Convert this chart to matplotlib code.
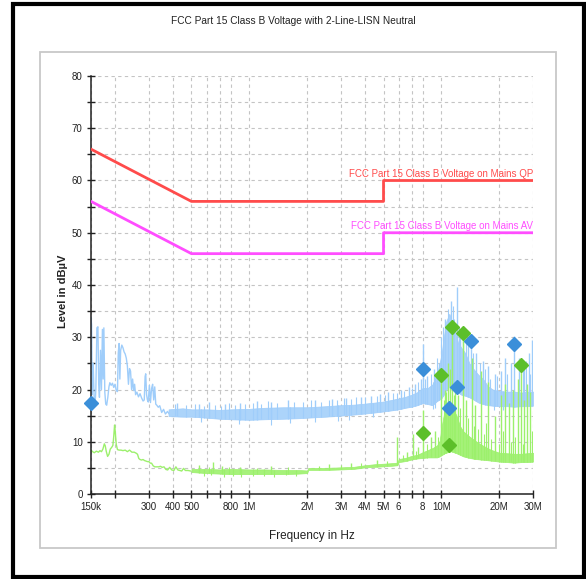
import numpy as np
import matplotlib
matplotlib.use("Agg")
import matplotlib.pyplot as plt
from matplotlib.patches import Rectangle

plt.rcParams['font.family'] = ['Liberation Sans', 'DejaVu Sans']

# limit lines (MHz, dBuV)
qp_lim_f = [0.15, 0.5, 5.0, 5.0, 30.0]
qp_lim_v = [66, 56, 56, 60, 60]
av_lim_f = [0.15, 0.5, 5.0, 5.0, 30.0]
av_lim_v = [56, 46, 46, 50, 50]

# peak trace, low frequency part (kHz)
pk_lf_f = [150, 151, 152, 154, 156, 157.5, 159, 161, 163, 164.5,
           166, 168, 170, 172, 173.5, 175, 177, 179, 181, 183.5,
           186, 188, 191, 194, 197, 200, 203, 206, 208, 210,
           212, 214, 217, 220, 223, 226, 229, 232, 235, 238,
           241, 244, 247, 250, 253, 256, 260, 265, 270, 275,
           280, 284, 287, 289, 292, 295, 298, 302, 306, 310,
           314, 318, 322, 326, 330, 336, 342, 350, 358, 366,
           375, 385]
pk_lf_v = [33.8, 32.5, 19.0, 25.0, 17.2, 17.0, 20.0, 31.8, 32.0, 21.0,
           18.5, 27.5, 20.0, 31.5, 22.0, 31.8, 19.5, 17.2, 17.0, 18.5,
           20.5, 21.3, 20.8, 21.2, 20.4, 21.0, 19.8, 19.6, 27.0, 28.8,
           22.0, 27.5, 28.5, 28.0, 27.2, 26.8, 26.0, 24.5, 21.0, 24.0,
           23.5, 20.0, 22.0, 19.8, 21.0, 19.0, 19.5, 18.6, 19.2, 18.4,
           17.8, 18.0, 22.5, 23.0, 19.0, 18.0, 17.6, 20.8, 17.5, 20.2,
           21.0, 18.0, 20.5, 17.2, 17.0, 16.6, 16.9, 15.6, 16.2, 15.3,
           15.8, 15.2]

# peak trace noise band (MHz)
pk_band_f = [0.38, 0.45, 0.5, 0.6, 0.7, 0.8, 1.0, 1.2, 1.5, 1.8,
             2.0, 2.5, 3.0, 3.5, 4.0, 4.5, 5.0, 5.5, 6.0, 6.5,
             7.0, 7.5, 8.0, 8.5, 9.0, 9.5, 10.0, 10.3, 10.6, 11.0,
             11.4, 11.8, 12.2, 12.7, 13.3, 14.0, 14.8, 15.6, 16.5, 17.5,
             18.5, 20.0, 22.0, 24.0, 26.0, 28.0, 30.0]
pk_band_lo = [14.9, 14.8, 14.8, 14.6, 14.4, 14.3, 14.2, 14.3, 14.4, 14.5,
              14.6, 14.8, 15.0, 15.2, 15.4, 15.6, 15.8, 16.0, 16.2, 16.5,
              16.7, 17.0, 17.4, 17.2, 17.0, 17.8, 18.3, 19.0, 20.0, 20.5,
              20.5, 20.0, 19.5, 19.0, 18.8, 18.5, 18.0, 17.5, 17.2, 17.0,
              16.9, 16.8, 16.8, 16.7, 16.8, 16.8, 16.9]
pk_band_hi = [16.2, 16.4, 16.2, 16.2, 16.1, 16.2, 16.3, 16.5, 16.6, 16.6,
              16.6, 16.8, 17.0, 17.1, 17.3, 17.5, 17.7, 18.0, 18.3, 18.6,
              19.0, 19.5, 20.3, 20.3, 21.0, 23.0, 26.5, 30.0, 33.0, 34.5,
              33.0, 31.0, 29.0, 28.0, 27.0, 25.0, 23.8, 22.8, 22.0, 20.6,
              20.0, 19.7, 19.6, 19.6, 19.4, 19.6, 19.6]

# peak trace spikes (MHz, dBuV)
pk_spk_f = [0.42, 0.55, 0.62, 0.75, 0.9, 1.1, 1.3, 1.6, 2.2, 2.7,
            3.2, 3.8, 4.3, 4.8, 5.3, 6.2, 6.8, 7.3, 7.8, 8.0,
            8.4, 9.2, 9.7, 10.4, 11.2, 12.0, 12.5, 13.0, 13.8, 14.3,
            15.2, 16.5, 17.5, 19.0, 20.5, 21.5, 23.0, 24.0, 25.5, 27.0,
            28.5, 29.5]
pk_spk_v = [17.5, 17.2, 17.6, 17.3, 17.5, 17.8, 17.6, 18.0, 17.9, 18.2,
            18.4, 18.6, 18.8, 19.2, 19.5, 20.0, 20.5, 21.0, 22.0, 28.8,
            22.5, 24.0, 25.0, 33.5, 37.0, 39.6, 31.0, 30.5, 29.0, 30.5,
            27.0, 25.5, 24.5, 23.0, 23.5, 26.0, 25.0, 30.2, 26.0, 24.0,
            27.0, 29.5]
pk_fine_f = [0.41, 0.47, 0.52, 0.58, 0.66, 0.71, 0.78, 0.84, 0.95, 1.05,
             1.15, 1.25, 1.4, 1.7, 1.9, 2.1, 2.35, 2.6, 2.85, 3.1,
             3.4, 3.6, 4.0, 4.6, 5.1, 5.6, 5.9, 6.4, 7.0, 7.6,
             8.2, 8.8, 9.5, 10.0, 10.2, 10.8, 11.5, 11.7, 12.3, 13.5,
             14.6, 15.8, 16.9, 18.0, 19.5, 22.0, 26.5, 27.5, 29.0]
pk_fine_v = [17.2, 17.0, 17.3, 16.9, 17.1, 16.8, 17.4, 17.0, 17.2, 17.5,
             17.3, 17.8, 17.5, 17.7, 17.6, 17.9, 17.7, 18.0, 17.9, 18.3,
             18.1, 18.5, 18.6, 18.7, 19.0, 19.4, 19.3, 19.8, 20.2, 21.5,
             22.0, 23.0, 26.0, 30.0, 32.0, 35.5, 36.0, 33.5, 32.0, 29.5,
             27.0, 25.0, 24.0, 22.0, 22.5, 23.0, 24.5, 25.5, 23.0]
# downward dips of the peak trace
pk_dip_f = [0.56, 0.88, 1.3, 1.62, 2.2, 2.9, 3.3, 4.4, 9.1, 9.3, 18.8, 21.0, 26.0]
pk_dip_v = [13.8, 13.4, 13.3, 13.6, 13.7, 14.0, 14.2, 14.8, 16.2, 16.5, 16.0, 16.1, 16.0]

# average trace, low frequency part (kHz)
av_lf_f = [150, 153, 156, 160, 164, 167, 170, 173, 176, 178,
           180, 183, 186, 189, 192, 195, 197, 199, 200, 201,
           203, 206, 210, 215, 220, 226, 232, 238, 245, 252,
           258, 262, 266, 270, 275, 280, 285, 290, 295, 300,
           305, 310, 316, 322, 330, 338, 345, 352, 360, 368,
           376, 385, 395, 405, 415, 425, 435, 445, 455, 465,
           480, 495]
av_lf_v = [8.4, 8.1, 7.9, 8.2, 8.0, 8.3, 8.1, 8.6, 9.6, 9.2,
           8.2, 7.2, 7.6, 8.6, 8.9, 9.3, 11.0, 13.2, 12.5, 11.5,
           9.5, 8.5, 8.4, 8.4, 8.3, 8.4, 8.1, 8.4, 8.0, 8.0,
           7.8, 7.6, 6.8, 6.6, 6.5, 6.6, 6.4, 6.3, 6.2, 6.2,
           5.9, 5.9, 5.4, 5.2, 5.2, 5.2, 5.3, 5.1, 5.2, 4.7,
           4.6, 5.1, 4.6, 4.5, 5.2, 4.6, 4.5, 4.4, 4.9, 4.5,
           4.5, 4.4]

# average trace noise band (MHz)
av_band_f = [0.5, 0.6, 0.7, 0.8, 1.0, 1.2, 1.5, 1.8, 2.0, 2.03,
             2.5, 3.0, 3.5, 4.0, 4.5, 5.0, 5.5, 5.9, 6.0, 6.5,
             7.0, 7.5, 8.0, 8.5, 9.0, 9.5, 9.8, 10.1, 10.4, 10.8,
             11.2, 11.6, 12.0, 12.5, 13.0, 14.0, 15.0, 16.0, 17.0, 18.0,
             19.0, 20.0, 22.0, 24.0, 26.0, 28.0, 30.0]
av_band_lo = [4.2, 4.0, 3.9, 3.8, 3.8, 3.8, 3.8, 3.9, 4.0, 4.6,
              4.6, 4.7, 4.8, 5.1, 5.2, 5.3, 5.4, 5.5, 6.1, 6.3,
              6.6, 6.8, 6.9, 7.0, 7.0, 7.0, 7.2, 7.5, 7.8, 8.0,
              8.2, 8.0, 7.8, 7.5, 7.2, 6.9, 6.7, 6.6, 6.5, 6.4,
              6.3, 6.2, 6.1, 6.0, 6.1, 6.1, 6.2]
av_band_hi = [4.8, 4.8, 4.7, 4.8, 4.7, 4.7, 4.6, 4.6, 4.5, 5.0,
              5.0, 5.1, 5.2, 5.5, 5.7, 5.8, 5.9, 6.0, 6.7, 6.9,
              7.3, 7.5, 8.0, 8.4, 8.8, 9.3, 10.2, 13.5, 16.0, 17.0,
              16.5, 16.0, 15.0, 13.0, 12.0, 11.0, 10.2, 9.5, 9.0, 8.5,
              8.2, 7.9, 7.8, 7.7, 7.7, 7.8, 7.9]

# average trace spikes
av_spk_f = [0.55, 0.65, 0.72, 0.9, 1.3, 2.6, 3.4, 4.6, 5.9, 6.6,
            7.1, 7.6, 8.0, 8.8, 9.3, 10.0, 10.5, 10.8, 11.1, 11.4,
            11.8, 12.2, 12.9, 13.4, 14.4, 15.0, 16.0, 17.5, 19.0, 20.5,
            21.5, 22.5, 23.5, 25.0, 25.9, 27.0, 28.0, 29.0]
av_spk_v = [5.6, 6.2, 5.4, 5.2, 5.3, 5.8, 6.0, 6.6, 11.0, 8.0,
            11.5, 9.0, 16.0, 11.0, 12.0, 22.8, 20.0, 25.0, 24.0, 32.0,
            21.0, 19.0, 30.9, 18.0, 26.0, 17.0, 23.5, 21.5, 15.0, 19.0,
            21.0, 17.5, 20.0, 22.0, 24.7, 18.0, 21.0, 19.5]
av_fine_f = [0.62, 0.78, 1.1, 1.6, 2.3, 3.0, 3.8, 5.2, 6.3, 7.4,
             8.4, 9.6, 10.3, 10.6, 11.6, 12.5, 13.8, 14.8, 15.5, 16.6,
             17.0, 18.2, 20.0, 21.0, 23.0, 24.3, 26.5, 29.5]
av_fine_v = [5.1, 5.2, 5.0, 5.1, 5.4, 5.6, 5.9, 6.3, 7.5, 8.2,
             9.5, 11.0, 18.0, 19.5, 19.0, 16.5, 14.5, 13.0, 12.5, 11.5,
             13.5, 10.5, 9.5, 12.0, 10.0, 11.0, 9.5, 12.0]
av_dip_f = [0.58, 0.63, 0.74, 0.82, 0.91, 1.05, 1.2, 1.35, 1.55, 1.75]
av_dip_v = [3.4, 3.6, 3.3, 3.5, 3.3, 3.4, 3.5, 3.3, 3.6, 3.5]

# final measurements
qp_meas_f = [0.15, 8.0, 11.0, 12.1, 14.3, 24.0]
qp_meas_v = [17.4, 23.9, 16.4, 20.5, 29.3, 28.8]
av_meas_f = [8.0, 10.0, 10.9, 11.4, 12.9, 25.9]
av_meas_v = [11.7, 22.8, 9.4, 32.0, 30.9, 24.7]

xtick_f = [0.15, 0.2, 0.3, 0.4, 0.5, 0.6, 0.7, 0.8, 1, 2, 3, 4, 5, 6, 7, 8, 10, 20, 30]
xtick_lbl = ['150k', '', '300', '400', '500', '', '', '800', '1M', '2M', '3M', '4M',
             '5M', '6', '', '8', '10M', '20M', '30M']

blue = '#9fcdfa'
blue_band = '#acd4fa'
green = '#9cf06c'
green_band = '#a6f27a'

fig = plt.figure(figsize=(5.86, 5.79), dpi=100)
W, H = 586, 579

# outer black frame and grey panel frame
fig.patches.append(Rectangle((13 / W, 2 / H), 571 / W, 573 / H, transform=fig.transFigure,
                             fill=False, ec='black', lw=3.0))
fig.patches.append(Rectangle((40 / W, (H - 548) / H), 516 / W, 496 / H, transform=fig.transFigure,
                             fill=False, ec='#c8c8c8', lw=1.3))

ax = fig.add_axes([91 / W, (H - 494) / H, 442 / W, 418 / H])
ax.set_xscale('log')
ax.set_xlim(0.15, 30)
ax.set_ylim(0, 80)

# limits
ax.plot(qp_lim_f, qp_lim_v, color='#ff4b4b', lw=2.0, zorder=3)
ax.plot(av_lim_f, av_lim_v, color='#ff4dff', lw=2.0, zorder=3)
ax.annotate('FCC Part 15 Class B Voltage on Mains QP', xy=(30, 60), xytext=(0, 1),
            textcoords='offset points', ha='right', va='bottom', fontsize=7, color='#ff4b4b')
ax.annotate('FCC Part 15 Class B Voltage on Mains AV', xy=(30, 50), xytext=(0, 1),
            textcoords='offset points', ha='right', va='bottom', fontsize=7, color='#ff4dff')

# peak trace
ax.plot(np.array(pk_lf_f) / 1000, pk_lf_v, color=blue, lw=1.0, zorder=2)
ax.fill_between(pk_band_f, pk_band_lo, pk_band_hi, color=blue_band, lw=0.5, ec=blue, zorder=2)
pk_base = np.interp(np.log10(pk_spk_f), np.log10(pk_band_f), pk_band_lo)
ax.vlines(pk_spk_f, pk_base, pk_spk_v, color=blue, lw=1.0, zorder=2)
pk_base2 = np.interp(np.log10(pk_fine_f), np.log10(pk_band_f), pk_band_lo)
ax.vlines(pk_fine_f, pk_base2, pk_fine_v, color=blue, lw=0.8, zorder=2)
pk_top = np.interp(np.log10(pk_dip_f), np.log10(pk_band_f), pk_band_hi)
ax.vlines(pk_dip_f, pk_dip_v, pk_top, color=blue, lw=0.8, zorder=2)

# average trace
ax.plot(np.array(av_lf_f) / 1000, av_lf_v, color=green, lw=1.0, zorder=2.5)
ax.fill_between(av_band_f, av_band_lo, av_band_hi, color=green_band, lw=0.5, ec=green, zorder=2.5)
av_base = np.interp(np.log10(av_spk_f), np.log10(av_band_f), av_band_lo)
ax.vlines(av_spk_f, av_base, av_spk_v, color=green, lw=1.0, zorder=2.5)
av_base2 = np.interp(np.log10(av_fine_f), np.log10(av_band_f), av_band_lo)
ax.vlines(av_fine_f, av_base2, av_fine_v, color=green, lw=0.8, zorder=2.5)
av_top = np.interp(np.log10(av_dip_f), np.log10(av_band_f), av_band_hi)
ax.vlines(av_dip_f, av_dip_v, av_top, color=green, lw=0.8, zorder=2.5)

# measurement markers
ax.plot(qp_meas_f, qp_meas_v, 'D', ms=7.5, color='#3b8fd9', mec='#3b8fd9', zorder=5, clip_on=False)
ax.plot(av_meas_f, av_meas_v, 'D', ms=7.5, color='#5cbf2a', mec='#5cbf2a', zorder=5, clip_on=False)

# axes style
ax.set_xticks(xtick_f)
ax.set_xticklabels(xtick_lbl)
ax.xaxis.set_minor_locator(plt.NullLocator())
ax.set_yticks(np.arange(0, 81, 5))
ax.set_yticklabels([str(v) if v % 10 == 0 else '' for v in range(0, 81, 5)])
ax.tick_params(direction='inout', length=6, width=1, color='#222222', labelsize=7,
               labelcolor='#222222', pad=3)
ax.grid(True, which='major', ls=(0, (3, 3)), color='#c4c4c4', lw=0.8)
ax.set_axisbelow(True)
for s in ['top', 'right']:
    ax.spines[s].set_visible(False)
for s in ['left', 'bottom']:
    ax.spines[s].set_linewidth(1.1)
    ax.spines[s].set_color('#222222')

fig.text(293 / W, 1 - 21 / H, 'FCC Part 15 Class B Voltage with 2-Line-LISN Neutral',
         ha='center', va='center', fontsize=7.3, color='#222222')
fig.text(63 / W, 1 - 291 / H, 'Level in dBµV', rotation=90, ha='center', va='center',
         fontsize=8, fontweight='bold', color='#222222')
fig.text(312 / W, 1 - 536 / H, 'Frequency in Hz', ha='center', va='center',
         fontsize=8.5, color='#222222')

fig.savefig('out.png', dpi=100)
